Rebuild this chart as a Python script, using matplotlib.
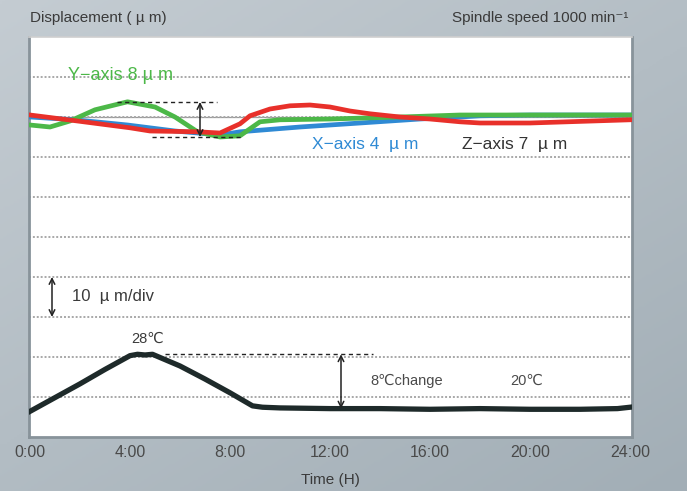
import numpy as np
import matplotlib
matplotlib.use("Agg")
import matplotlib.pyplot as plt

plt.rcParams['font.family'] = ['Liberation Sans', 'DejaVu Sans', 'Noto Sans CJK SC']

# time (h) and displacement (um)
y_hours = [0, 0.8, 1.6, 2.6, 3.9, 5.0, 5.8, 6.7, 7.6, 8.4, 8.9, 9.2, 10.0, 12.0, 14.8, 17.2, 20, 24]
y_disp = [78.0, 77.5, 79.0, 81.8, 83.8, 82.5, 80.0, 76.3, 75.0, 75.3, 77.5, 78.8, 79.3, 79.5, 80.0, 80.5, 80.5, 80.5]

x_hours = [0, 1.8, 3.9, 5.8, 7.6, 8.4, 10.8, 13.2, 15.6, 17.2, 18.0, 20, 24]
x_disp = [80.0, 79.3, 78.0, 76.5, 75.5, 76.3, 77.5, 78.5, 79.5, 80.0, 80.3, 80.5, 80.5]

z_hours = [0, 1.9, 4.0, 4.8, 6.7, 7.6, 8.4, 8.8, 9.6, 10.4, 11.2, 12.0, 12.8, 13.6, 14.8, 16.0,
           17.2, 18.0, 20, 24]
z_disp = [80.5, 79.0, 77.3, 76.5, 76.3, 76.0, 78.3, 80.3, 82.0, 82.8, 83.0, 82.5, 81.5, 80.8, 80.0,
          79.5, 78.8, 78.5, 78.5, 79.3]

# room temperature (deg C)
t_hours = [0, 1, 2, 3, 4, 4.3, 4.6, 4.9, 6, 7, 8, 8.9, 9.3, 10, 12, 14, 16, 18, 20, 22, 23.5, 24]
temp_c = [19.8, 21.8, 23.8, 25.9, 27.9, 28.1, 28.0, 28.1, 26.4, 24.5, 22.5, 20.6, 20.4, 20.3, 20.2,
          20.2, 20.1, 20.2, 20.1, 20.1, 20.2, 20.4]

xticks = [0, 4, 8, 12, 16, 20, 24]
xtick_labels = ["0:00", "4:00", "8:00", "12:00", "16:00", "20:00", "24:00"]

GREEN, BLUE, RED, DARK = "#4cb848", "#2f8ad4", "#e8302a", "#1e2a2a"
TXT = "#3a3a3a"

fig = plt.figure(figsize=(6.87, 4.91), dpi=100)

# gray-blue gradient backdrop
bg = fig.add_axes([0, 0, 1, 1], zorder=-10)
gx, gy = np.meshgrid(np.linspace(0, 1, 200), np.linspace(0, 1, 200))
g = 0.55 * gy + 0.45 * gx
bg.imshow(g, cmap=matplotlib.colors.LinearSegmentedColormap.from_list("bg", ["#c4ccd2", "#a2aeb6"]),
          aspect="auto", extent=[0, 1, 0, 1], origin="upper")
bg.axis("off")

ax = fig.add_axes([29/687, 54/491, 603/687, 400/491])
ax.set_facecolor("white")
ax.set_xlim(-0.04, 24.08)
ax.set_ylim(0, 100)

ax.set_yticks(range(10, 100, 10))
ax.set_yticklabels([])
ax.tick_params(axis="y", length=0)
ax.yaxis.grid(True, color="#a8a8a8", linestyle=(0, (1, 1)), linewidth=1.4)
ax.axhline(80, color="#9a9a9a", lw=0.9, zorder=1)

ax.set_xticks(xticks)
ax.set_xticklabels(xtick_labels, fontsize=11.5, color="#4a4a4a")
ax.tick_params(axis="x", length=0, pad=6)
ax.set_xlabel("Time (H)", fontsize=11, color=TXT, labelpad=9)

for side in ["left", "bottom", "right"]:
    ax.spines[side].set_color("#88939a")
    ax.spines[side].set_linewidth(2)
ax.spines["top"].set_color("#cfcfcf")
ax.spines["top"].set_linewidth(1.2)

ax.plot(x_hours, x_disp, color=BLUE, lw=3.4, zorder=3, solid_joinstyle="round")
ax.plot(y_hours, y_disp, color=GREEN, lw=3.4, zorder=4, solid_joinstyle="round")
ax.plot(z_hours, z_disp, color=RED, lw=3.4, zorder=5, solid_joinstyle="round")

# Y-axis amplitude markers
ax.plot([3.48, 7.48], [83.75, 83.75], ls=(0, (3, 2.5)), color="#222", lw=1, zorder=6)
ax.plot([4.88, 8.52], [75, 75], ls=(0, (3, 2.5)), color="#222", lw=1, zorder=6)
ax.annotate("", xy=(6.8, 83.75), xytext=(6.8, 75),
            arrowprops=dict(arrowstyle="<->", color="#222", lw=1.1, shrinkA=0, shrinkB=0), zorder=7)

ax.text(1.52, 90.3, "Y\u2212axis 8 \u00b5 m", color=GREEN, fontsize=13, va="center", ha="left")
ax.text(11.28, 73.2, "X\u2212axis 4  \u00b5 m", color=BLUE, fontsize=12.5, va="center", ha="left")
ax.text(17.28, 73.2, "Z\u2212axis 7  \u00b5 m", color="#333333", fontsize=12.5, va="center", ha="left")

# scale marker
ax.annotate("", xy=(0.88, 40), xytext=(0.88, 30),
            arrowprops=dict(arrowstyle="<->", color="#222", lw=1.1, shrinkA=0, shrinkB=0))
ax.text(1.68, 35, "10  \u00b5 m/div", color=TXT, fontsize=12, va="center", ha="left")

# temperature on hidden twin axis
ax2 = ax.twinx()
ax2.set_ylim(16.07, 74.25)
ax2.set_yticks([])
for s in ax2.spines.values():
    s.set_visible(False)
ax2.plot(t_hours, temp_c, color=DARK, lw=3.8, solid_joinstyle="round")
ax2.plot([5.4, 13.7], [28.1, 28.1], ls=(0, (3, 2.5)), color="#222", lw=1)
ax2.annotate("", xy=(12.44, 28.1), xytext=(12.44, 20.2),
             arrowprops=dict(arrowstyle="<->", color="#222", lw=1.1, shrinkA=0, shrinkB=0))
ax2.text(4.72, 30.4, "28\u2103", color=TXT, fontsize=10.5, ha="center", va="center")
ax2.text(13.6, 24.2, "8\u2103change", color="#4a4a4a", fontsize=10.5, ha="left", va="center")
ax2.text(19.2, 24.3, "20\u2103", color="#4a4a4a", fontsize=10.5, ha="left", va="center")

fig.text(30/687, 1 - 18/491, "Displacement ( \u00b5 m)", fontsize=11, color=TXT, va="center", ha="left")
fig.text(628/687, 1 - 18/491, "Spindle speed 1000 min\u207b\u00b9", fontsize=11, color=TXT,
         va="center", ha="right")

fig.savefig("out.png", dpi=100)
